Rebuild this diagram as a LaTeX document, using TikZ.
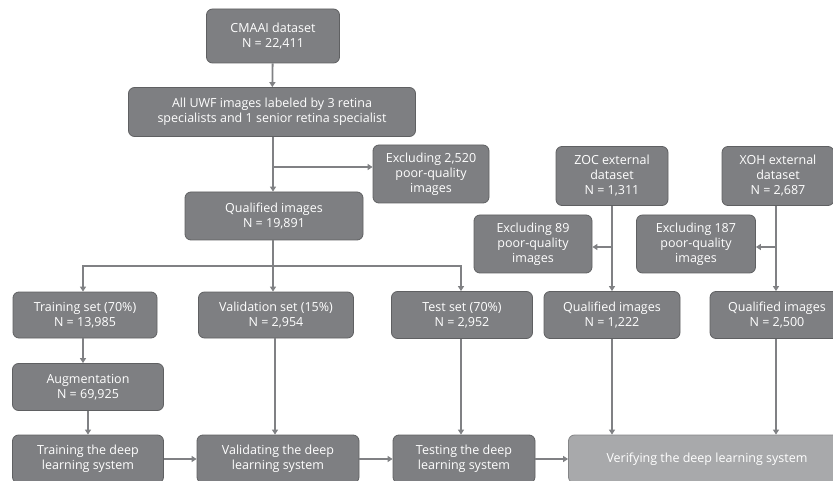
\documentclass[tikz,border=0pt]{standalone}
\usepackage{fontspec}
\setmainfont{Open Sans}
\usetikzlibrary{arrows.meta}
\definecolor{boxfill}{HTML}{7E7F82}
\definecolor{boxline}{HTML}{5F6062}
\definecolor{lightfill}{HTML}{A8A9AB}
\definecolor{lightline}{HTML}{848587}
\definecolor{wire}{HTML}{808184}
\tikzset{
	darkbox/.style={draw=boxline, fill=boxfill, line width=0.8pt, rounded corners=6pt, text=white, align=center, inner sep=0pt, font=\fontsize{12.5}{15}\selectfont},
	lightbox/.style={darkbox, draw=lightline, fill=lightfill},
	arr/.style={draw=wire, line width=1.8pt, -{Triangle[length=5pt,width=6pt]}}
}

\begin{document}
\begin{tikzpicture}[x=1pt, y=-1pt]
			%%%%% START %%%%%
			
			\useasboundingbox (0, 0) rectangle (833, 481);
			\clip (0, 0) rectangle (833, 481);
			
			\node[darkbox, minimum width=133, minimum height=54] (cmaai) at (273, 36) {CMAAI dataset\\N = 22,411};
			\node[darkbox, minimum width=287, minimum height=49] (uwf) at (272, 112) {All UWF images labeled by 3 retina\\specialists and 1 senior retina specialist};
			\node[darkbox, minimum width=116, minimum height=58] (excl1) at (431, 174) {Excluding 2,520\\poor-quality\\images};
			\node[darkbox, minimum width=178, minimum height=48] (qual) at (274, 216) {Qualified images\\N = 19,891};
			
			\node[darkbox, minimum width=112, minimum height=59] (zoc) at (612, 176) {ZOC external\\dataset\\N = 1,311};
			\node[darkbox, minimum width=112, minimum height=59] (xoh) at (778, 176) {XOH external\\dataset\\N = 2,687};
			\node[darkbox, minimum width=118, minimum height=58] (excl89) at (533, 244) {Excluding 89\\poor-quality\\images};
			\node[darkbox, minimum width=119, minimum height=58] (excl187) at (696, 244) {Excluding 187\\poor-quality\\images};
			
			\node[darkbox, minimum width=144, minimum height=46] (train) at (85, 315) {Training set (70\%)\\N = 13,985};
			\node[darkbox, minimum width=155, minimum height=46] (val) at (276, 315) {Validation set (15\%)\\N = 2,954};
			\node[darkbox, minimum width=141, minimum height=47] (test) at (462, 315) {Test set (70\%)\\N = 2,952};
			\node[darkbox, minimum width=136, minimum height=47] (q1222) at (612, 315) {Qualified images\\N = 1,222};
			\node[darkbox, minimum width=134, minimum height=47] (q2500) at (777, 315) {Qualified images\\N = 2,500};
			
			\node[darkbox, minimum width=151, minimum height=47] (aug) at (88, 387) {Augmentation\\N = 69,925};
			
			\node[darkbox, minimum width=151, minimum height=48] (trainDL) at (88, 459) {Training the deep\\learning system};
			\node[darkbox, minimum width=162, minimum height=48] (valDL) at (278, 459) {Validating the deep\\learning system};
			\node[darkbox, minimum width=142, minimum height=48] (testDL) at (464, 459) {Testing the deep\\learning system};
			\node[lightbox, minimum width=277, minimum height=48] (verify) at (707, 459) {Verifying the deep learning system};
			
			% internal dataset
			\draw[arr] (cmaai) -- (uwf);
			\draw[arr] (uwf.south -| cmaai.south) -- (cmaai.south |- qual.north);
			\coordinate (cut1) at (273, 167);
			\draw[arr] (cut1) -- (cut1 -| excl1.west);
			
			\coordinate (split) at (273, 266);
			\draw[arr] (qual.south -| split) -- (split |- val.north);
			\draw[arr] (split) -| ([xshift=-2]train.north);
			\draw[arr] (split) -| ([xshift=-1]test.north);
			
			\draw[arr] ([xshift=-2]train.south) -- ([xshift=-2]train.south |- aug.north);
			\draw[arr] (aug.south) -- (trainDL.north);
			\draw[arr] ([xshift=-1]val.south) -- ([xshift=-1]val.south |- valDL.north);
			\draw[arr] ([xshift=-1]test.south) -- ([xshift=-1]test.south |- testDL.north);
			
			% external datasets
			\draw[arr] (zoc) -- (q1222);
			\coordinate (cut2) at (612, 247);
			\draw[arr] (cut2) -- (cut2 -| excl89.east);
			\draw[arr] ([xshift=-2]xoh.south) -- ([xshift=-2]xoh.south |- q2500.north);
			\coordinate (cut3) at (776, 247);
			\draw[arr] (cut3) -- (cut3 -| excl187.east);
			
			\draw[arr] (q1222.south) -- (q1222.south |- verify.north);
			\draw[arr] ([xshift=-1]q2500.south) -- ([xshift=-1]q2500.south |- verify.north);
			
			% bottom row
			\draw[arr] (trainDL) -- (valDL);
			\draw[arr] (valDL) -- (testDL);
			\draw[arr] (testDL) -- (verify);
			
			%%%%% END %%%%%
\end{tikzpicture}
\end{document}
